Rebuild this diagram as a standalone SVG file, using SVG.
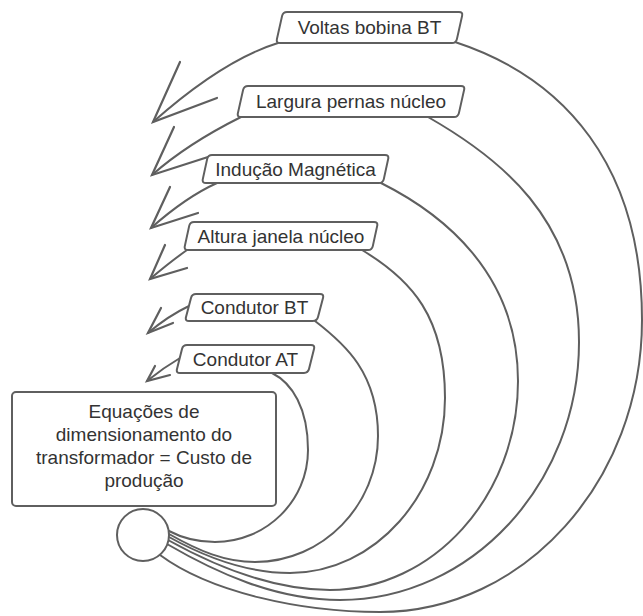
<svg xmlns="http://www.w3.org/2000/svg" width="643" height="616" viewBox="0 0 643 616">
  <style>
    .wire { fill: none; stroke: #5f5f5f; stroke-width: 2; stroke-linecap: round; stroke-linejoin: round; }
    .head { fill: none; stroke: #5f5f5f; stroke-width: 2.2; stroke-linecap: round; stroke-linejoin: miter; }
    .tag { fill: #ffffff; stroke: #5f5f5f; stroke-width: 2; stroke-linejoin: round; }
    .box { fill: #ffffff; stroke: #5f5f5f; stroke-width: 2; }
    .txt { font-family: "Liberation Sans", Arial, sans-serif; font-size: 19px; fill: #333333; text-anchor: middle; }
  </style>
  <rect width="643" height="616" fill="#ffffff"/>

  <!-- curved connectors from the hub circle, each ending in an open arrowhead on the left -->
  <g id="connectors">
    <g id="conn-voltas">
      <path class="wire" d="M160,555 C210,592 300,612 380,612 C524,612 642,481 642,320 C642,166 565,78 455,42 M278,43 Q223,60 153,122"/>
      <path class="head" d="M180,62 L153,122 L217,98"/>
    </g>
    <g id="conn-largura">
      <path class="wire" d="M167,544 C215,572 275,600 340,600 C471,600 579,484 579,342 C579,218 498,157 428,117 M241,117 Q187,144 152,175"/>
      <path class="head" d="M174,127 L152,175 L208,157"/>
    </g>
    <g id="conn-inducao">
      <path class="wire" d="M168,540 C213,565 270,590 330,590 C433,590 518,496 518,381 C518,272 441,213 381,183 M217,183 Q186,197 151,228"/>
      <path class="head" d="M170,187 L151,228 L198,213"/>
    </g>
    <g id="conn-altura">
      <path class="wire" d="M169,537 C205,557 245,573 290,573 C375,573 445,494 445,398 C445,317 412,280 362,250 M187,250 Q170,262 150,279"/>
      <path class="head" d="M165,245 L150,279 L187,268"/>
    </g>
    <g id="conn-bt">
      <path class="wire" d="M169,534 C199,551 225,562 255,562 C323,562 378,505 378,436 C378,373 345,344 315,321 M189,306 Q168,316 148,333"/>
      <path class="head" d="M161,308 L148,333 L173,323"/>
    </g>
    <g id="conn-at">
      <path class="wire" d="M169,531 C184,539 200,542 215,542 C266,542 308,501 308,450 C308,408 292,383 272,373 M180,358 Q163,368 147,381"/>
      <path class="head" d="M155,366 L147,381 L170,375"/>
    </g>
  </g>

  <!-- variable labels (slanted tags sitting on the connectors) -->
  <g id="node-voltas">
    <path class="tag" d="M287,12 H459 Q463,12 462.1,15.9 L456.9,39.1 Q456,43 452,43 H280 Q276,43 276.9,39.1 L282.1,15.9 Q283,12 287,12 Z"/>
    <text class="txt" x="369.5" y="34">Voltas bobina BT</text>
  </g>
  <g id="node-largura">
    <path class="tag" d="M248,86 H461 Q465,86 464.1,89.9 L458.9,113.1 Q458,117 454,117 H241 Q237,117 237.9,113.1 L243.1,89.9 Q244,86 248,86 Z"/>
    <text class="txt" x="351" y="108">Largura pernas núcleo</text>
  </g>
  <g id="node-inducao">
    <path class="tag" d="M212,155 H385 Q389,155 388.2,158.9 L383.8,179.1 Q383,183 379,183 H206 Q202,183 202.8,179.1 L207.2,158.9 Q208,155 212,155 Z"/>
    <text class="txt" x="295.5" y="176">Indução Magnética</text>
  </g>
  <g id="node-altura">
    <path class="tag" d="M194,222 H374 Q378,222 377.2,225.9 L372.8,246.1 Q372,250 368,250 H188 Q184,250 184.8,246.1 L189.2,225.9 Q190,222 194,222 Z"/>
    <text class="txt" x="281" y="243">Altura janela núcleo</text>
  </g>
  <g id="node-bt">
    <path class="tag" d="M196,294 H320 Q324,294 323,297.9 L318,317.1 Q317,321 313,321 H189 Q185,321 186,317.1 L191,297.9 Q192,294 196,294 Z"/>
    <text class="txt" x="254.5" y="314">Condutor BT</text>
  </g>
  <g id="node-at">
    <path class="tag" d="M187,345 H311 Q315,345 314,348.9 L309,369.1 Q308,373 304,373 H180 Q176,373 177,369.1 L182,348.9 Q183,345 187,345 Z"/>
    <text class="txt" x="245.5" y="366">Condutor AT</text>
  </g>

  <!-- main equation block -->
  <g id="node-equacoes">
    <rect class="box" x="12" y="392" width="264" height="114" rx="4"/>
    <text class="txt" x="144" y="418">Equações de</text>
    <text class="txt" x="144" y="441">dimensionamento do</text>
    <text class="txt" x="144" y="464">transformador = Custo de</text>
    <text class="txt" x="144" y="487">produção</text>
  </g>

  <!-- hub where all connectors start -->
  <g id="node-hub">
    <circle class="box" cx="143" cy="535" r="26"/>
  </g>
</svg>
